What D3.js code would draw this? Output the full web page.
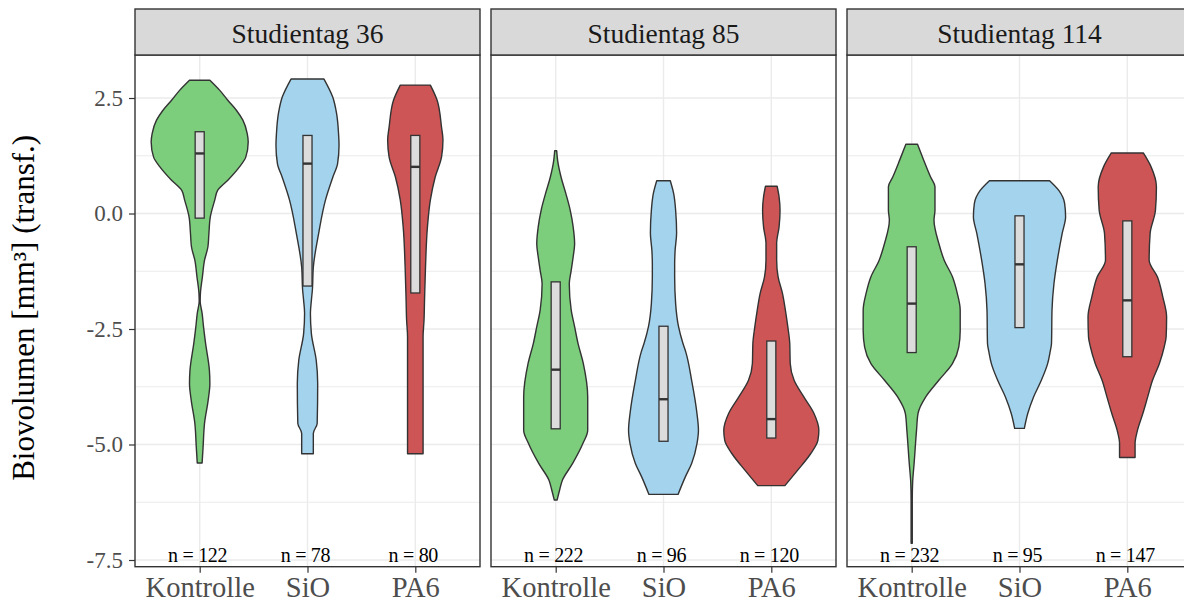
<!DOCTYPE html>
<html>
<head>
<meta charset="utf-8">
<script src="https://cdn.jsdelivr.net/npm/d3@7"></script>
<style>
  html, body { margin: 0; padding: 0; background: #fff; }
  svg { display: block; }
  text { font-family: "Liberation Serif", "Times New Roman", serif; }
</style>
</head>
<body>
<svg id="chart" width="1184" height="603"></svg>
<script>
// ---------------- DATA ----------------
const panels = ["Studientag 36", "Studientag 85", "Studientag 114"];
const categories = ["Kontrolle", "SiO", "PA6"];
const colors = ["#7ccd7c", "#a4d3ee", "#cd5555"];
const yTicks = [2.5, 0, -2.5, -5, -7.5];
const yTickLabels = ["2.5", "0.0", "-2.5", "-5.0", "-7.5"];
const yMinor = [1.25, -1.25, -3.75, -6.25];
const yDomain = [-7.645, 3.431];
const yTitle = "Biovolumen [mm\u00b3] (transf.)";

// sample sizes per panel, per category
const nDay36 = [122, 78, 80];
const nDay85 = [222, 96, 120];
const nDay114 = [232, 95, 147];

// box statistics [q1, median, q3] per category
const boxDay36 = [[-0.10, 1.30, 1.77], [-1.57, 1.08, 1.69], [-1.72, 1.01, 1.69]];
const boxDay85 = [[-4.66, -3.38, -1.48], [-4.93, -4.02, -2.44], [-4.86, -4.45, -2.76]];
const boxDay114 = [[-3.01, -1.95, -0.72], [-2.47, -1.10, -0.05], [-3.10, -1.88, -0.16]];

// violin density profiles: [value, relative density]
const densDay36Kontrolle = [[2.885,0.21],[2.67,0.41],[2.45,0.58],[2.23,0.76],[2.02,0.89],[1.73,0.98],[1.55,1.0],[1.22,0.95],[1.01,0.82],[0.72,0.58],[0.5,0.37],[0.29,0.31],[-0.07,0.22],[-0.43,0.19],[-0.72,0.17],[-1.01,0.10],[-1.37,0.056],[-1.73,0.015],[-1.9,0.01],[-2.16,0.05],[-2.46,0.08],[-2.8,0.12],[-3.39,0.2],[-3.68,0.21],[-4.04,0.175],[-4.54,0.10],[-5.06,0.07],[-5.4,0.05]];
const densDay36SiO = [[2.91,0.34],[2.52,0.52],[2.16,0.6],[1.73,0.64],[1.47,0.65],[1.08,0.62],[0.78,0.52],[0.29,0.37],[-0.43,0.23],[-1.16,0.12],[-1.66,0.10],[-1.88,0.08],[-2.16,0.06],[-2.6,0.08],[-3.18,0.18],[-3.68,0.21],[-4.54,0.2],[-4.76,0.12],[-5.2,0.12]];
const densDay36PA6 = [[2.78,0.31],[2.45,0.45],[1.87,0.54],[1.59,0.57],[1.22,0.54],[0.79,0.41],[0.29,0.31],[-0.29,0.25],[-1.16,0.21],[-1.88,0.19],[-2.3,0.18],[-2.67,0.16],[-4.6,0.16],[-5.2,0.16]];

const densDay85Kontrolle = [[1.36,0.02],[1.15,0.04],[0.79,0.11],[0.43,0.21],[0.07,0.30],[-0.29,0.36],[-0.65,0.39],[-0.94,0.36],[-1.23,0.32],[-1.52,0.28],[-2.09,0.32],[-2.45,0.39],[-2.81,0.46],[-3.25,0.57],[-3.97,0.66],[-4.69,0.66],[-4.98,0.56],[-5.41,0.35],[-5.77,0.14],[-5.99,0.08],[-6.2,0.03]];
const densDay85SiO = [[0.71,0.14],[0.43,0.21],[0.07,0.25],[-0.43,0.27],[-0.79,0.24],[-1.08,0.23],[-1.37,0.23],[-1.95,0.25],[-2.45,0.31],[-2.81,0.40],[-3.0,0.46],[-3.61,0.58],[-4.33,0.69],[-4.69,0.72],[-4.98,0.69],[-5.41,0.58],[-5.7,0.45],[-6.08,0.30]];
const densDay85PA6 = [[0.59,0.12],[0.36,0.16],[0.07,0.18],[-0.29,0.16],[-0.65,0.11],[-1.01,0.11],[-1.37,0.14],[-1.73,0.23],[-2.09,0.29],[-2.45,0.34],[-2.81,0.38],[-3.25,0.39],[-3.61,0.47],[-3.97,0.67],[-4.33,0.88],[-4.69,0.98],[-4.91,0.96],[-5.2,0.81],[-5.56,0.54],[-5.89,0.28]];

const densDay114Kontrolle = [[1.5,0.12],[1.15,0.25],[0.79,0.39],[0.58,0.48],[0.07,0.48],[-0.14,0.46],[-0.65,0.56],[-1.01,0.67],[-1.37,0.84],[-1.73,0.94],[-2.09,1.0],[-2.53,1.0],[-2.89,0.97],[-3.25,0.84],[-3.61,0.56],[-3.97,0.29],[-4.33,0.13],[-4.69,0.10],[-5.41,0.05],[-5.81,0.02],[-6.2,0.012],[-7.14,0.012]];
const densDay114SiO = [[0.71,0.62],[0.5,0.81],[0.22,0.93],[-0.07,0.95],[-0.43,0.88],[-1.01,0.78],[-1.52,0.71],[-2.09,0.67],[-2.81,0.66],[-3.0,0.63],[-3.25,0.58],[-3.61,0.45],[-3.97,0.29],[-4.33,0.17],[-4.65,0.10]];
const densDay114PA6 = [[1.31,0.33],[1.01,0.49],[0.58,0.60],[0.07,0.58],[-0.43,0.47],[-1.01,0.45],[-1.37,0.62],[-1.8,0.73],[-2.24,0.81],[-2.67,0.80],[-2.89,0.76],[-3.25,0.66],[-3.61,0.52],[-3.97,0.42],[-4.33,0.32],[-4.69,0.21],[-4.98,0.16],[-5.28,0.16]];

const panelData = [
  { n: nDay36, box: boxDay36, dens: [densDay36Kontrolle, densDay36SiO, densDay36PA6] },
  { n: nDay85, box: boxDay85, dens: [densDay85Kontrolle, densDay85SiO, densDay85PA6] },
  { n: nDay114, box: boxDay114, dens: [densDay114Kontrolle, densDay114SiO, densDay114PA6] }
];

// ---------------- LAYOUT ----------------
const svg = d3.select("#chart");
const marginLeft = 135, panelW = 345, gap = 11;
const stripTop = 9, panelTop = 55, panelBottom = 566.7;
const lineCol = "#333333";

const y = d3.scaleLinear().domain(yDomain).range([panelBottom, panelTop]);

// y axis title
svg.append("text")
  .attr("transform", `translate(34,${(panelTop + panelBottom) / 2 - 3}) rotate(-90)`)
  .attr("text-anchor", "middle")
  .attr("font-size", 31)
  .attr("fill", "#000")
  .text(yTitle);

// y axis
const yAxis = svg.append("g")
  .attr("transform", `translate(${marginLeft},0)`)
  .call(d3.axisLeft(y).tickValues(yTicks).tickSize(6).tickPadding(6)
        .tickFormat((d, i) => yTickLabels[i]));
yAxis.select(".domain").remove();
yAxis.selectAll(".tick line").attr("stroke", lineCol).attr("stroke-width", 1.2);
yAxis.selectAll(".tick text").attr("font-size", 23).attr("fill", "#4d4d4d")
  .attr("font-family", "Liberation Serif, serif");

panels.forEach((title, pi) => {
  const left = marginLeft + pi * (panelW + gap);
  const pd = panelData[pi];
  const x = d3.scalePoint().domain(categories).range([left, left + panelW]).padding(0.6);
  const w = d3.scaleLinear().domain([0, 1]).range([0, 0.45 * x.step()]);
  const g = svg.append("g");

  // background
  g.append("rect").attr("x", left).attr("y", panelTop)
    .attr("width", panelW).attr("height", panelBottom - panelTop).attr("fill", "#fff");

  // minor grid
  g.selectAll(".gmin").data(yMinor).enter().append("line")
    .attr("x1", left).attr("x2", left + panelW)
    .attr("y1", d => y(d)).attr("y2", d => y(d))
    .attr("stroke", "#ebebeb").attr("stroke-width", 1);
  // major grid
  g.selectAll(".gmaj").data(yTicks).enter().append("line")
    .attr("x1", left).attr("x2", left + panelW)
    .attr("y1", d => y(d)).attr("y2", d => y(d))
    .attr("stroke", "#ebebeb").attr("stroke-width", 1.4);
  g.selectAll(".gx").data(categories).enter().append("line")
    .attr("x1", d => x(d)).attr("x2", d => x(d))
    .attr("y1", panelTop).attr("y2", panelBottom)
    .attr("stroke", "#ebebeb").attr("stroke-width", 1.4);

  // violins
  categories.forEach((cat, ci) => {
    const cx = x(cat);
    const area = d3.area()
      .y(d => y(d[0]))
      .x0(d => cx - w(d[1]))
      .x1(d => cx + w(d[1]))
      .curve(d3.curveMonotoneY);
    const prof = pd.dens[ci].slice().sort((a, b) => b[0] - a[0]);
    g.append("path").attr("d", area(prof))
      .attr("fill", colors[ci]).attr("stroke", lineCol).attr("stroke-width", 1.4)
      .attr("stroke-linejoin", "round");

    // box
    const [q1, med, q3] = pd.box[ci];
    const bw = 0.042 * x.step();
    g.append("rect").attr("x", cx - bw).attr("width", 2 * bw)
      .attr("y", y(q3)).attr("height", y(q1) - y(q3))
      .attr("fill", "#dcdcdc").attr("stroke", lineCol).attr("stroke-width", 1.3);
    g.append("line").attr("x1", cx - bw).attr("x2", cx + bw)
      .attr("y1", y(med)).attr("y2", y(med))
      .attr("stroke", lineCol).attr("stroke-width", 2.4);

    // n labels
    g.append("text").attr("x", cx - 2).attr("y", 562)
      .attr("text-anchor", "middle").attr("font-size", 20).attr("fill", "#000")
      .attr("letter-spacing", -0.3)
      .text("n = " + pd.n[ci]);
  });

  // panel border
  g.append("rect").attr("x", left).attr("y", panelTop)
    .attr("width", panelW).attr("height", panelBottom - panelTop)
    .attr("fill", "none").attr("stroke", lineCol).attr("stroke-width", 1.4);

  // strip
  g.append("rect").attr("x", left).attr("y", stripTop)
    .attr("width", panelW).attr("height", panelTop - stripTop)
    .attr("fill", "#d9d9d9").attr("stroke", lineCol).attr("stroke-width", 1.4);
  g.append("text").attr("x", left + panelW / 2).attr("y", 43)
    .attr("text-anchor", "middle").attr("font-size", 27.5).attr("fill", "#1a1a1a")
    .text(title);

  // x axis
  const xAxis = svg.append("g").attr("transform", `translate(0,${panelBottom})`)
    .call(d3.axisBottom(x).tickSize(6).tickPadding(4));
  xAxis.select(".domain").remove();
  xAxis.selectAll(".tick line").attr("stroke", lineCol).attr("stroke-width", 1.2);
  xAxis.selectAll(".tick text").attr("font-size", 28.5).attr("fill", "#4d4d4d")
    .attr("font-family", "Liberation Serif, serif");
});
</script>
</body>
</html>
